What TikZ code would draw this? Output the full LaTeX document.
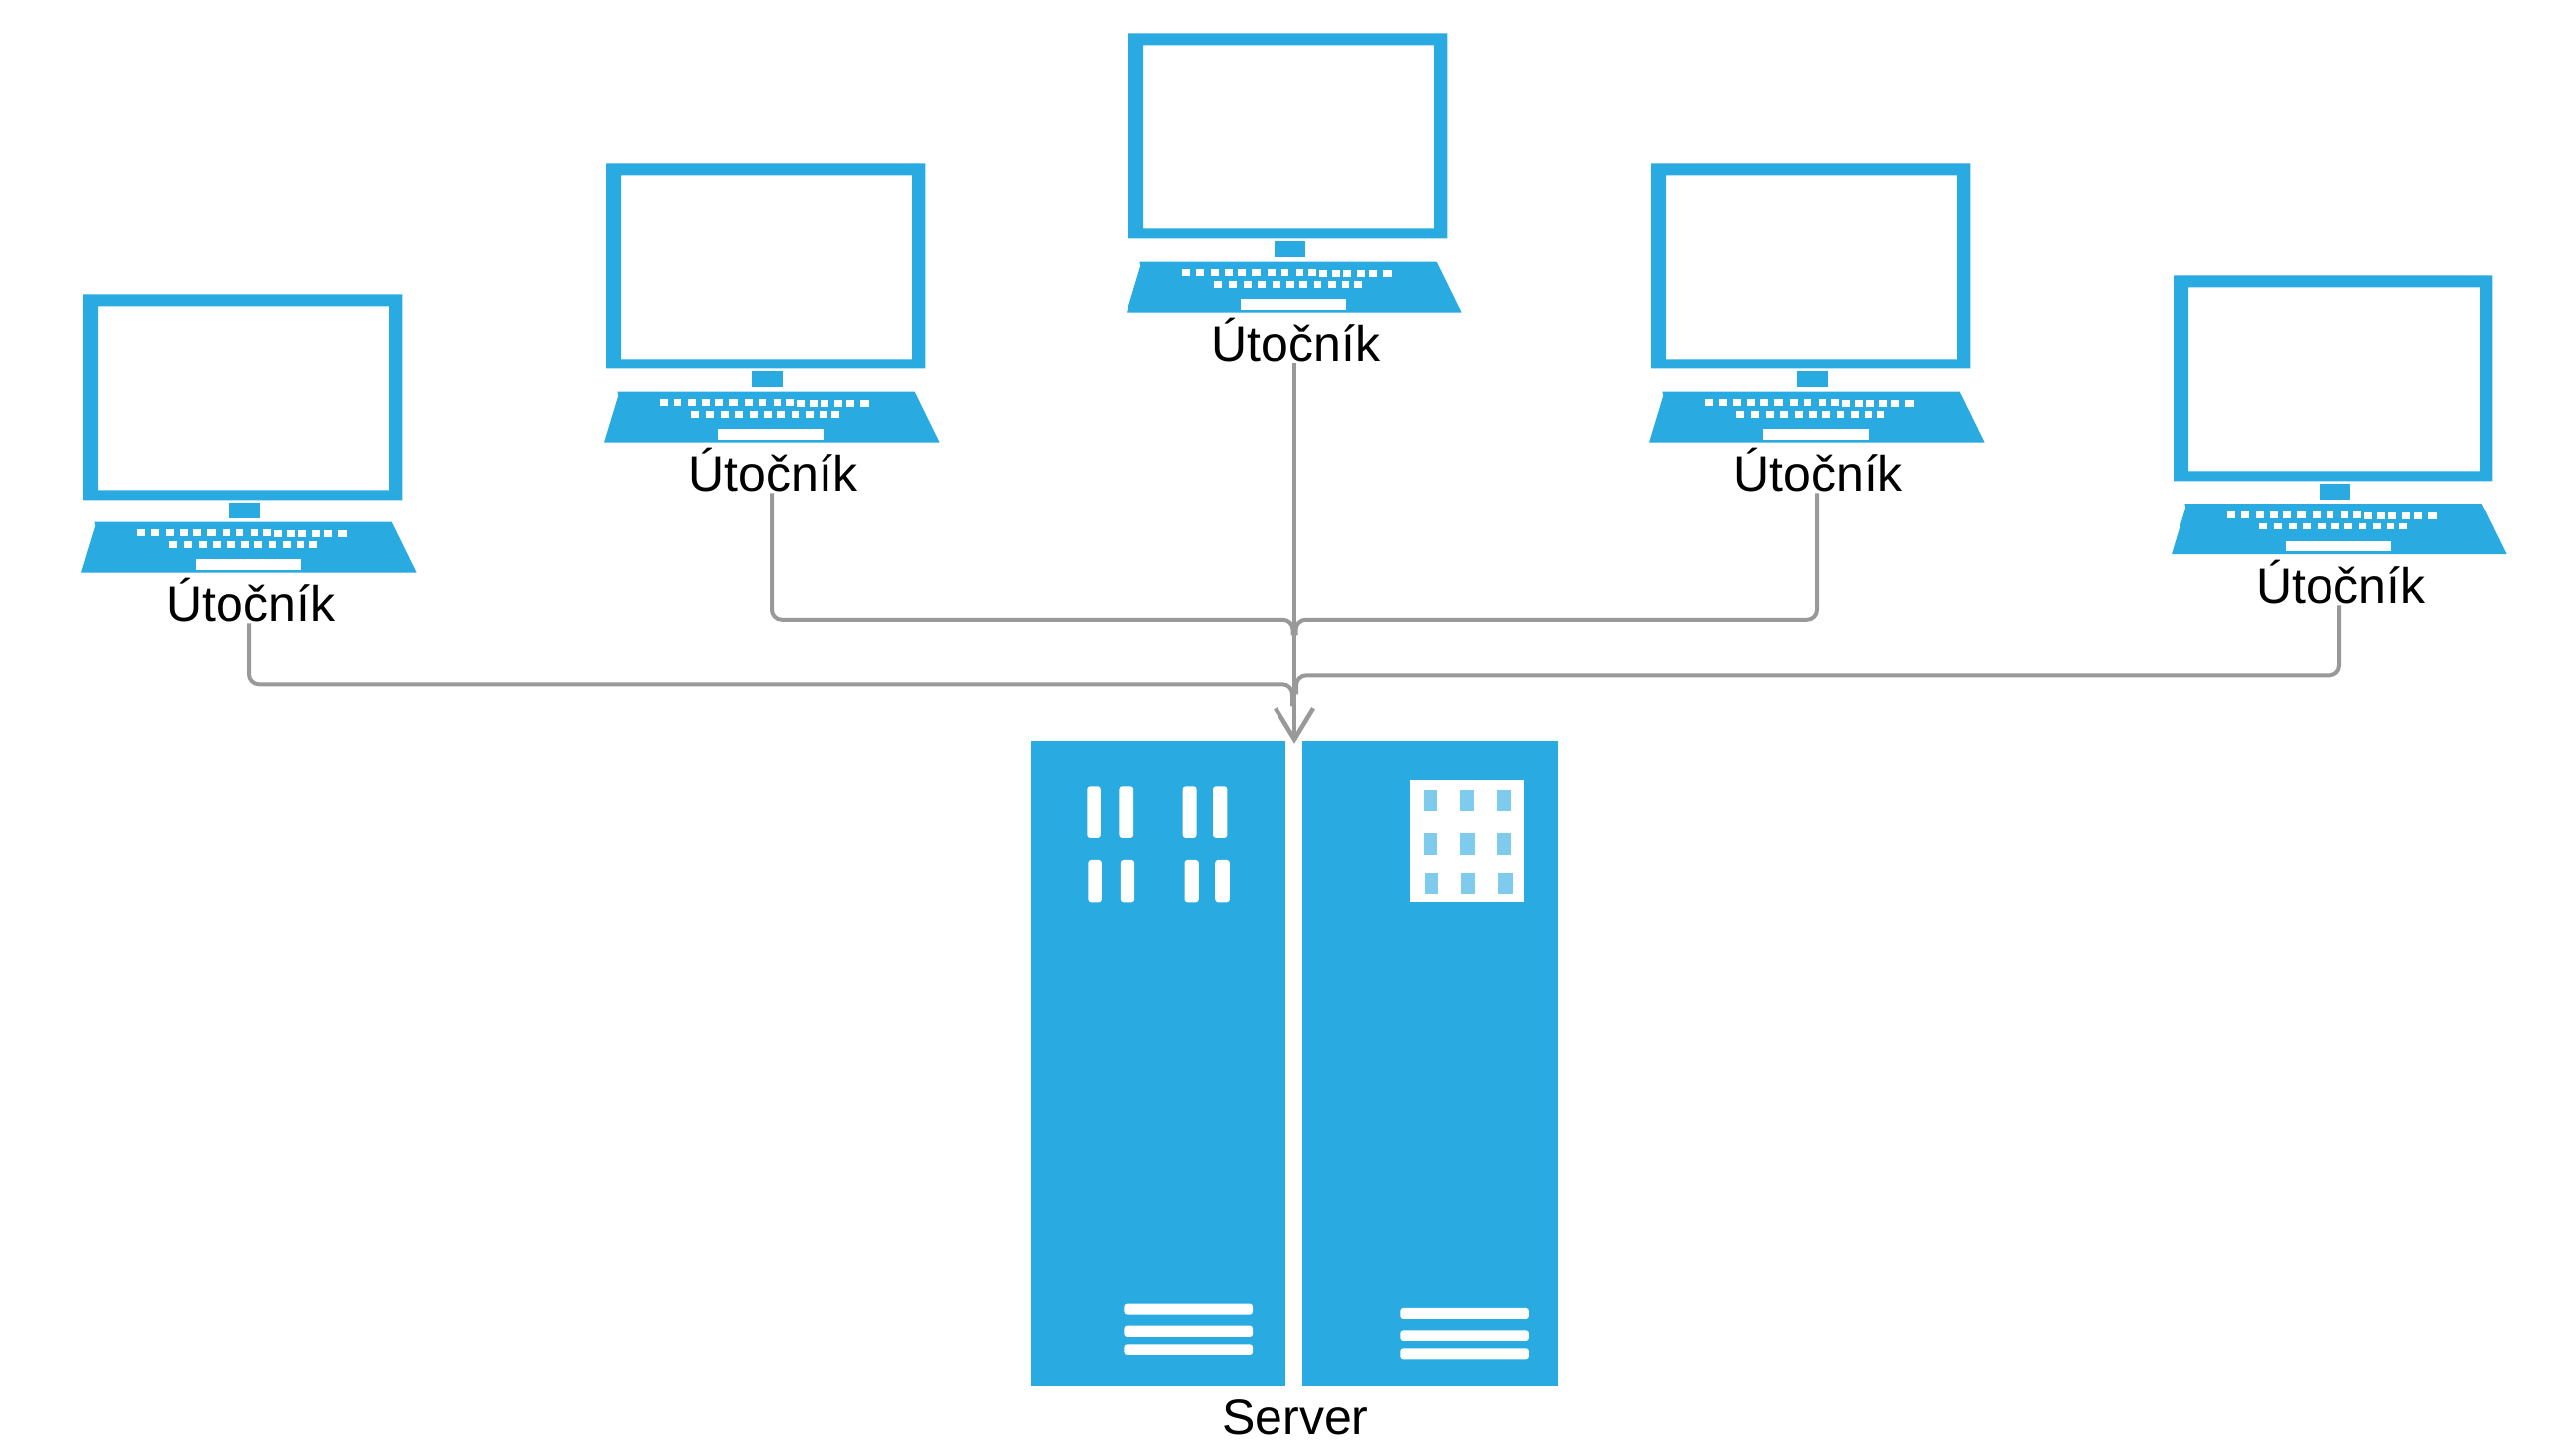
\documentclass[tikz,border=0pt]{standalone}
\usepackage{fontspec}
\setmainfont{Liberation Sans}
\usetikzlibrary{arrows.meta}
\definecolor{blu}{HTML}{29ABE2}
\definecolor{pane}{HTML}{7FCBEE}
\definecolor{gry}{HTML}{999999}
\tikzset{
  lbl/.style={anchor=base,inner sep=0pt,outer sep=0pt,text depth=0pt,font=\fontsize{50}{60}\selectfont,text=black},
  conn/.style={draw=gry,line width=4pt,rounded corners=10pt},
  barb/.style={draw=gry,line width=4.5pt,miter limit=10,line join=miter},
  slot/.style={fill=white,rounded corners=3pt},
  zoomed/.style={x=0.33333pt,y=-0.33333pt}
}
\newcommand{\laptopicon}[3]{%
  \begin{scope}[shift={(#1,#2)}]
    \fill[blu,even odd rule] (84,297) rectangle (405.3,504) (99,309) rectangle (392,494);
    \fill[blu] (231,507) rectangle (262,523);
    \begin{scope}[shift={(60,#3)},zoomed]
      \fill[blu] (106,139) -- (1004,139) -- (1079,292) -- (66,292) -- (109,150) -- cycle;
      \fill[white] (411,252) rectangle (729,284);
      \foreach \a/\b in {234/258,276/300,321/345,363/387,402/426,444/471,492/516,534/555,579/600,615/639}
        \fill[white] (\a,162) rectangle (\b,183);
      \foreach \a/\b in {648/672,687/711,720/744,762/786,798/822,840/867}
        \fill[white] (\a,165) rectangle (\b,186);
      \foreach \a/\b in {330/354,375/399,420/444,462/486,507/531,549/573,588/612,633/654,675/699,717/738,753/777}
        \fill[white] (\a,198) rectangle (\b,218);
    \end{scope}
  \end{scope}}
\begin{document}
\begin{tikzpicture}[x=1pt,y=-1pt]
\useasboundingbox (0,0.7) rectangle (2573,1466.7);
\laptopicon{0}{0}{480}
\laptopicon{526}{-132}{481}
\laptopicon{1052}{-263}{481}
\laptopicon{1578}{-132}{481}
\laptopicon{2104}{-19}{480.5}
\node[lbl] (u1) at (252.3,626.6) {Útočník};
\node[lbl] (u2) at (778.3,495.6) {Útočník};
\node[lbl] (u3) at (1304.3,364.6) {Útočník};
\node[lbl] (u4) at (1830.3,495.6) {Útočník};
\node[lbl] (u5) at (2356.3,608.6) {Útočník};
% server
\fill[blu] (1038,746.7) rectangle (1294.3,1397);
\fill[blu] (1311,746.7) rectangle (1568,1397);
\node[minimum width=530pt,minimum height=656.6pt,inner sep=0pt,outer sep=0pt] (srv) at (1303,1078.3) {};
\node[lbl] (srvlbl) at (1304,1445.3) {Server};
\begin{scope}[shift={(1030,640)},x=0.35714pt,y=-0.33333pt]
  \foreach \a/\b in {180/218,270/311,450/489,535/575}
    \fill[slot] (\a,456) rectangle (\b,614);
  \foreach \a/\b in {183/221,274/314,455/495,541/582}
    \fill[slot] (\a,680) rectangle (\b,807);
  \fill[white] (1089,438) rectangle (1412,805);
  \foreach \a/\b in {1127/1167,1232/1270,1336/1375}
    \fill[pane] (\a,467) rectangle (\b,534);
  \foreach \a/\b in {1128/1168,1233/1273,1336/1375}
    \fill[pane] (\a,600) rectangle (\b,665);
  \foreach \a/\b in {1131/1169,1235/1273,1338/1379}
    \fill[pane] (\a,719) rectangle (\b,783);
\end{scope}
\begin{scope}[shift={(1030,1290)},x=0.35714pt,y=-0.33333pt]
  \foreach \a/\b in {70/103,136/170,192/224}
    \fill[slot] (284,\a) rectangle (647,\b);
  \foreach \a/\b in {83/116,150/182,204/237}
    \fill[slot] (1062,\a) rectangle (1425,\b);
\end{scope}
% connectors
\coordinate (b1) at (1301,690);  \coordinate (j1) at (1301,712);
\coordinate (b2) at (1301.5,624.5); \coordinate (j2) at (1301.5,640);
\coordinate (b4) at (1304.5,624.5); \coordinate (j4) at (1304.5,640);
\coordinate (b5) at (1305,681);  \coordinate (j5) at (1305,700);
\draw[conn] ([shift={(-1.3,1.4)}]u1.south) |- (b1) -- (j1);
\draw[conn] ([shift={(-1.3,1.4)}]u2.south) |- (b2) -- (j2);
\draw[conn] ([shift={(-1.3,1.4)}]u4.south) |- (b4) -- (j4);
\draw[conn] ([shift={(-1.3,1.4)}]u5.south) |- (b5) -- (j5);
\draw[conn] ([shift={(-1.3,1.4)}]u3.south) -- ([shift={(0,-5)}]srv.north);
\draw[barb] ([shift={(-19,-36)}]srv.north) -- ([shift={(0,-4.8)}]srv.north) -- ([shift={(19,-36)}]srv.north);
\end{tikzpicture}
\end{document}
